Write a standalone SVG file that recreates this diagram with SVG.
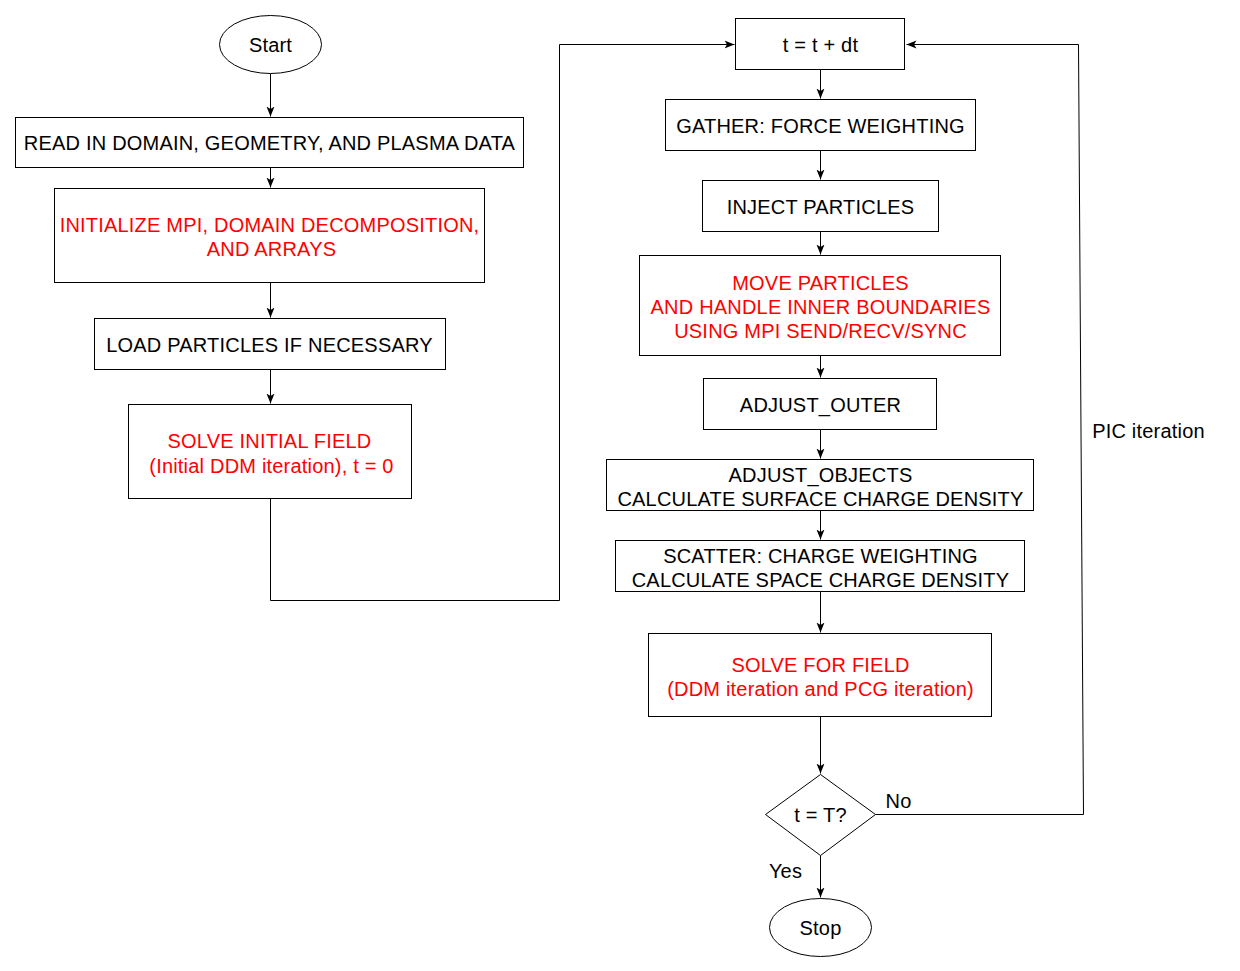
<svg xmlns="http://www.w3.org/2000/svg" width="1240" height="971" viewBox="0 0 1240 971">
<style>
.n{fill:#fff;stroke:#000;stroke-width:1}
.t{font-family:"Liberation Sans",Arial,sans-serif;font-size:20px;letter-spacing:0.2px;text-anchor:middle;fill:#000}
.r{fill:#ff0000}
.c{fill:none;stroke:#000;stroke-width:1}
</style>
<defs>
<marker id="a" viewBox="0 0 10 10" refX="10" refY="5" markerWidth="10" markerHeight="10" markerUnits="userSpaceOnUse" orient="auto">
<path d="M0,1 L10,5 L0,9 L2.5,5 Z" fill="#000"/>
</marker>
</defs>
<rect width="1240" height="971" fill="#fff"/>
<g transform="translate(0.5,0.5)">
<g id="connectors">
<path class="c" d="M270,73 V116" marker-end="url(#a)"/>
<path class="c" d="M270,167 V187" marker-end="url(#a)"/>
<path class="c" d="M270,282 V317" marker-end="url(#a)"/>
<path class="c" d="M270,369 V403" marker-end="url(#a)"/>
<path class="c" d="M270,498 V600 H559 V44 H734" marker-end="url(#a)"/>
<path class="c" d="M820,69 V98" marker-end="url(#a)"/>
<path class="c" d="M820,150 V179" marker-end="url(#a)"/>
<path class="c" d="M820,231 V254" marker-end="url(#a)"/>
<path class="c" d="M820,355 V377" marker-end="url(#a)"/>
<path class="c" d="M820,429 V458" marker-end="url(#a)"/>
<path class="c" d="M820,510 V539" marker-end="url(#a)"/>
<path class="c" d="M820,591 V632" marker-end="url(#a)"/>
<path class="c" d="M820,716 V773" marker-end="url(#a)"/>
<path class="c" d="M820,855 V897" marker-end="url(#a)"/>
<path class="c" d="M875,814 H1083 L1078,44 H906" marker-end="url(#a)"/>
<text class="t" x="898" y="807">No</text>
<text class="t" x="785" y="877">Yes</text>
<text class="t" x="1148" y="437">PIC iteration</text>
</g>
<g id="start"><ellipse class="n" cx="270" cy="44" rx="51" ry="29"/><text class="t" x="270" y="51">Start</text></g>
<g id="read"><rect class="n" x="15" y="117" width="508" height="50"/><text class="t" x="269" y="149">READ IN DOMAIN, GEOMETRY, AND PLASMA DATA</text></g>
<g id="init"><rect class="n" x="54" y="188" width="430" height="94"/><text class="t r" x="269" y="231">INITIALIZE MPI, DOMAIN DECOMPOSITION,</text><text class="t r" x="271" y="255">AND ARRAYS</text></g>
<g id="load"><rect class="n" x="94" y="318" width="351" height="51"/><text class="t" x="269" y="351">LOAD PARTICLES IF NECESSARY</text></g>
<g id="solveinit"><rect class="n" x="128" y="404" width="283" height="94"/><text class="t r" x="269" y="447">SOLVE INITIAL FIELD</text><text class="t r" x="271" y="472">(Initial DDM iteration), t = 0</text></g>
<g id="tstep"><rect class="n" x="735" y="18" width="169" height="51"/><text class="t" x="820" y="51">t = t + dt</text></g>
<g id="gather"><rect class="n" x="665" y="99" width="310" height="51"/><text class="t" x="820" y="132">GATHER: FORCE WEIGHTING</text></g>
<g id="inject"><rect class="n" x="702" y="180" width="236" height="51"/><text class="t" x="820" y="213">INJECT PARTICLES</text></g>
<g id="move"><rect class="n" x="639" y="255" width="361" height="100"/><text class="t r" x="820" y="289">MOVE PARTICLES</text><text class="t r" x="820" y="313">AND HANDLE INNER BOUNDARIES</text><text class="t r" x="820" y="337">USING MPI SEND/RECV/SYNC</text></g>
<g id="outer"><rect class="n" x="703" y="378" width="233" height="51"/><text class="t" x="820" y="411">ADJUST_OUTER</text></g>
<g id="objects"><rect class="n" x="606" y="459" width="427" height="51"/><text class="t" x="820" y="481">ADJUST_OBJECTS</text><text class="t" x="820" y="505">CALCULATE SURFACE CHARGE DENSITY</text></g>
<g id="scatter"><rect class="n" x="615" y="540" width="409" height="51"/><text class="t" x="820" y="562">SCATTER: CHARGE WEIGHTING</text><text class="t" x="820" y="586">CALCULATE SPACE CHARGE DENSITY</text></g>
<g id="solve"><rect class="n" x="648" y="633" width="343" height="83"/><text class="t r" x="820" y="671">SOLVE FOR FIELD</text><text class="t r" x="820" y="695">(DDM iteration and PCG iteration)</text></g>
<g id="check"><path class="n" d="M820,774 L875,814 L820,855 L765,814 Z"/><text class="t" x="820" y="821">t = T?</text></g>
<g id="stop"><ellipse class="n" cx="820" cy="927" rx="51" ry="29"/><text class="t" x="820" y="934">Stop</text></g>
</g>
</svg>
